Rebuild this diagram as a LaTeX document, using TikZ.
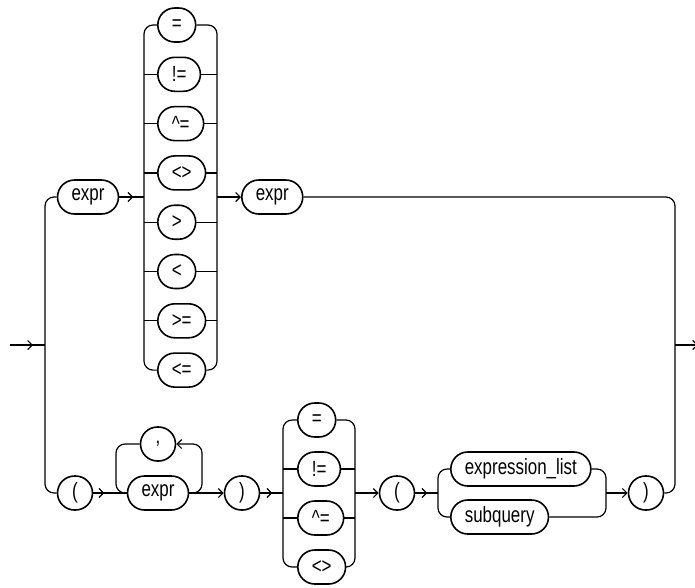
\documentclass[tikz,border=0pt]{standalone}
\usepackage{fontspec}
\setmainfont{Liberation Sans}[FakeStretch=0.77]
\usetikzlibrary{arrows.meta,positioning,decorations.markings}
\tikzset{
term/.style={draw,line width=1.6pt,rounded corners=17pt,minimum height=34pt,minimum width=35pt,inner xsep=14pt,inner ysep=0pt,font=\fontsize{22}{26}\selectfont},
rail/.style={line width=1.2pt,rounded corners=9pt},
into/.style={-{Straight Barb[length=4.5pt,width=9pt]}},
chev/.style={postaction={decorate,decoration={markings,mark=at position #1 with {\arrow{Straight Barb[length=4.5pt,width=9pt]}}}}}
}
\begin{document}
\begin{tikzpicture}[x=1pt,y=-1pt]
\useasboundingbox (0,0) rectangle (695,587);
% rail junctions
\coordinate(start)at(10,345);\coordinate(ml)at(45,345);\coordinate(mr)at(675,345);\coordinate(fin)at(698,345);
\coordinate(ca)at(144,197);\coordinate(cb)at(217,197);
\coordinate(la)at(116,493);\coordinate(lb)at(202,493);
\coordinate(da)at(283,493);\coordinate(db)at(355,493);
\coordinate(ea)at(438,493);\coordinate(eb)at(606,493);
% upper branch
\node[term](ex1)at(88,197){expr};
\node[term,anchor=west](o1)at(157,25){=};
\node[term,anchor=west](o2)at(157,74.3){!=};
\node[term,anchor=west](o3)at(157,123.6){\textasciicircum=};
\node[term,anchor=west](o4)at(157,172.9){<>};
\node[term,anchor=west](o5)at(157,222.2){>};
\node[term,anchor=west](o6)at(157,271.5){<};
\node[term,anchor=west](o7)at(157,320.8){>=};
\node[term,anchor=west](o8)at(157,370.1){<=};
\node[term,anchor=west](ex2)at(241,197){expr};
% lower branch
\node[term](lp1)at(75,493){(};
\node[term](cm)at(158,444){,};
\node[term](ex3)at(158,493){expr};
\node[term](rp1)at(242,493){)};
\node[term,anchor=west](p1)at(297,420){=};
\node[term,anchor=west](p2)at(297,469){!=};
\node[term,anchor=west](p3)at(297,518){\textasciicircum=};
\node[term,anchor=west](p4)at(297,567){<>};
\node[term](lp2)at(397,493){(};
\node[term,anchor=west](el)at(450,469){expression\_list};
\node[term,anchor=west](sq)at(450,517){subquery};
\node[term](rp2)at(646,493){)};
% main rails
\draw[rail,chev=23pt](start)--(ml);
\draw[rail](ex1.west)--(ex1.west-|ml)--(lp1.west-|ml)--(lp1.west);
\draw[rail](ex2.east)--(ex2.east-|mr)--(rp2.east-|mr)--(rp2.east);
\draw[rail,into](mr)--(fin);
% operator choice, upper
\draw[rail,chev=14pt](ex1.east)--(ca);
\draw[rail](o1.west)--(o1.west-|ca)--(o8.west-|ca)--(o8.west);
\draw[rail](o1.east)--(o1.east-|cb)--(o8.east-|cb)--(o8.east);
\draw[rail](o2.west-|ca)--(o2.west)(o2.east)--(o2.east-|cb);
\draw[rail](o3.west-|ca)--(o3.west)(o3.east)--(o3.east-|cb);
\draw[rail](o4.west-|ca)--(o4.west)(o4.east)--(o4.east-|cb);
\draw[rail](o5.west-|ca)--(o5.west)(o5.east)--(o5.east-|cb);
\draw[rail](o6.west-|ca)--(o6.west)(o6.east)--(o6.east-|cb);
\draw[rail](o7.west-|ca)--(o7.west)(o7.east)--(o7.east-|cb);
\draw[rail,into](cb)--(ex2.west);
% expr list loop
\draw[rail,chev=11pt](lp1.east)--(ex3.west);
\draw[rail](cm.west)--(cm.west-|la)--(la)--(ex3.west);
\draw[rail,into](ex3.east)--(lb)--(cm.east-|lb)--(cm.east);
\draw[rail,into](ex3.east)--(rp1.west);
% operator choice, lower
\draw[rail,chev=12pt](rp1.east)--(da);
\draw[rail](p1.west)--(p1.west-|da)--(p4.west-|da)--(p4.west);
\draw[rail](p1.east)--(p1.east-|db)--(p4.east-|db)--(p4.east);
\draw[rail](p2.west-|da)--(p2.west)(p2.east)--(p2.east-|db);
\draw[rail](p3.west-|da)--(p3.west)(p3.east)--(p3.east-|db);
\draw[rail,into](db)--(lp2.west);
% list or subquery
\draw[rail,chev=12pt](lp2.east)--(ea);
\draw[rail](el.west)--(el.west-|ea)--(sq.west-|ea)--(sq.west);
\draw[rail](el.east)--(el.east-|eb)--(sq.east-|eb)--(sq.east);
\draw[rail,into](eb)--(rp2.west);
\end{tikzpicture}
\end{document}
